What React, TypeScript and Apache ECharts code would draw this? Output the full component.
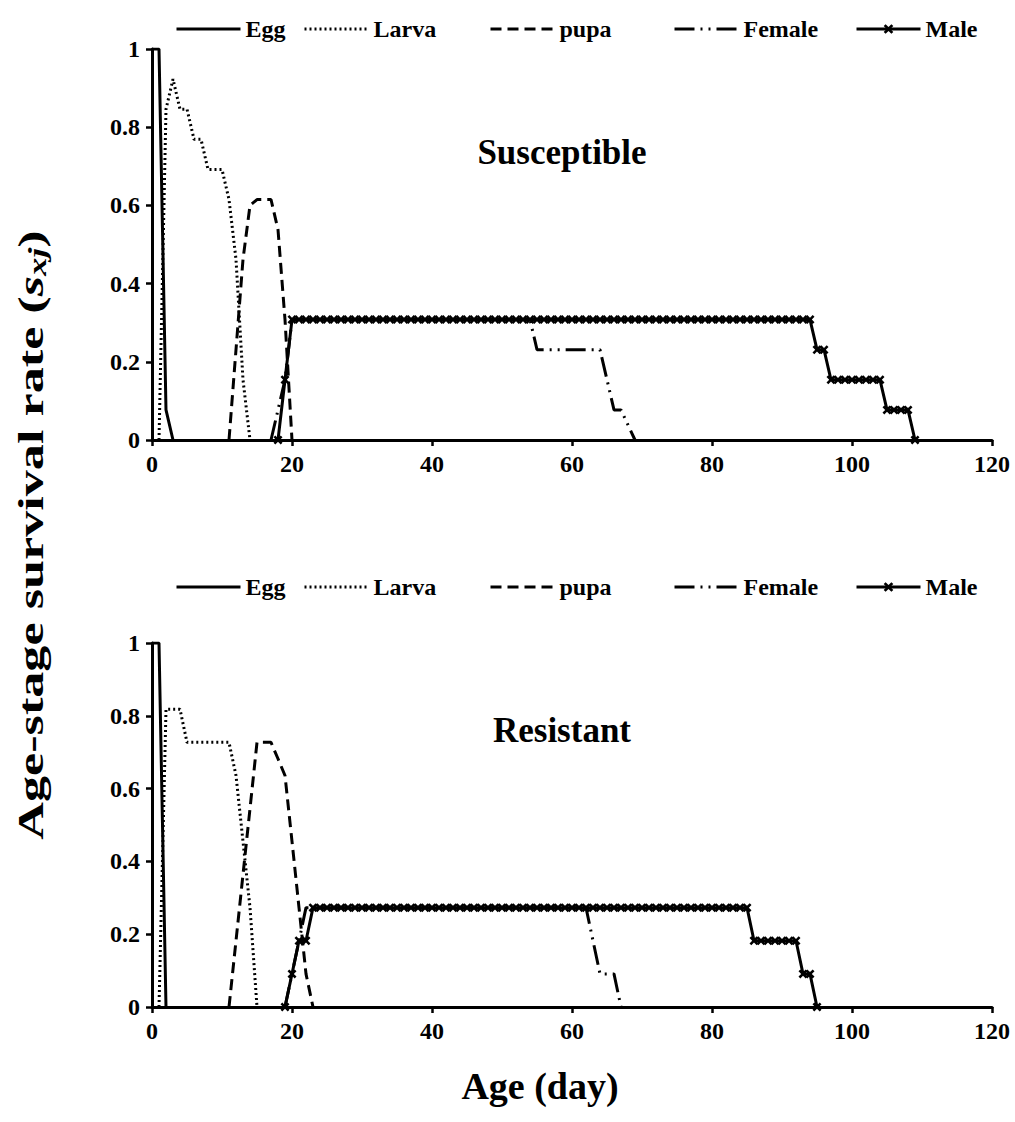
import React, { useEffect, useRef } from 'react';
import * as echarts from 'echarts';

const FONT = '"Liberation Serif", "Times New Roman", serif';

// ---------- axis ticks ----------
const xTickInterval = 20;
const xMax = 120;
const yTickInterval = 0.2;
const yMax = 1;

// ---------- Susceptible ----------
const eggS = [[0, 1], [1, 1], [2, 0.077], [3, 0]];
const larvaS = [
  [1, 0], [2, 0.846], [3, 0.923], [4, 0.846], [5, 0.846], [6, 0.769], [7, 0.769],
  [8, 0.692], [9, 0.692], [10, 0.692], [11, 0.615], [12, 0.462], [13, 0.154], [14, 0],
];
const pupaS = [
  [11, 0], [12, 0.231], [13, 0.462], [14, 0.6], [15, 0.615], [16, 0.615], [17, 0.615],
  [18, 0.538], [19, 0.308], [20, 0],
];
const femaleS = [
  [17, 0], [18, 0.077], [19, 0.154], [20, 0.308], [54, 0.308], [55, 0.231],
  [64, 0.231], [65, 0.154], [66, 0.077], [67, 0.077], [69, 0],
];
const maleSStartDay = 18;
const maleSValues = [
  0, 0.154,
  0.308, 0.308, 0.308, 0.308, 0.308, 0.308, 0.308, 0.308, 0.308, 0.308, 0.308, 0.308, 0.308, 0.308, 0.308,
  0.308, 0.308, 0.308, 0.308, 0.308, 0.308, 0.308, 0.308, 0.308, 0.308, 0.308, 0.308, 0.308, 0.308, 0.308,
  0.308, 0.308, 0.308, 0.308, 0.308, 0.308, 0.308, 0.308, 0.308, 0.308, 0.308, 0.308, 0.308, 0.308, 0.308,
  0.308, 0.308, 0.308, 0.308, 0.308, 0.308, 0.308, 0.308, 0.308, 0.308, 0.308, 0.308, 0.308, 0.308, 0.308,
  0.308, 0.308, 0.308, 0.308, 0.308, 0.308, 0.308, 0.308, 0.308, 0.308, 0.308, 0.308, 0.308, 0.308, 0.308,
  0.231, 0.231,
  0.154, 0.154, 0.154, 0.154, 0.154, 0.154, 0.154, 0.154,
  0.077, 0.077, 0.077, 0.077,
  0,
];

// ---------- Resistant ----------
const eggR = [[0, 1], [1, 1], [2, 0]];
const larvaR = [
  [1, 0], [2, 0.818], [3, 0.818], [4, 0.818], [5, 0.727], [6, 0.727], [7, 0.727],
  [8, 0.727], [9, 0.727], [10, 0.727], [11, 0.727], [12, 0.636], [13, 0.455], [14, 0.273], [15, 0],
];
const pupaR = [
  [11, 0], [12, 0.182], [13, 0.364], [14, 0.545], [15, 0.727], [16, 0.727], [17, 0.727],
  [18, 0.682], [19, 0.636], [20, 0.455], [21, 0.273], [22, 0.091], [23, 0],
];
const femaleR = [
  [19, 0], [20, 0.091], [21, 0.182], [22, 0.273], [62, 0.273], [63, 0.182], [64, 0.091],
  [66, 0.091], [67, 0],
];
const maleRStartDay = 19;
const maleRValues = [
  0, 0.091, 0.182, 0.182,
  0.273, 0.273, 0.273, 0.273, 0.273, 0.273, 0.273, 0.273, 0.273, 0.273, 0.273, 0.273, 0.273, 0.273, 0.273,
  0.273, 0.273, 0.273, 0.273, 0.273, 0.273, 0.273, 0.273, 0.273, 0.273, 0.273, 0.273, 0.273, 0.273, 0.273,
  0.273, 0.273, 0.273, 0.273, 0.273, 0.273, 0.273, 0.273, 0.273, 0.273, 0.273, 0.273, 0.273, 0.273, 0.273,
  0.273, 0.273, 0.273, 0.273, 0.273, 0.273, 0.273, 0.273, 0.273, 0.273, 0.273, 0.273, 0.273, 0.273, 0.273,
  0.273, 0.273, 0.273,
  0.182, 0.182, 0.182, 0.182, 0.182, 0.182, 0.182,
  0.091, 0.091,
  0,
];

const stageNames = ['Egg', 'Larva', 'pupa', 'Female', 'Male'];
const panelTitles = ['Susceptible', 'Resistant'];

const X_SYMBOL =
  'path://M0,2 L2,0 L5,3 L8,0 L10,2 L7,5 L10,8 L8,10 L5,7 L2,10 L0,8 L3,5 Z';

const lineStyles: Record<string, any> = {
  Egg: { type: 'solid', width: 3 },
  Larva: { type: [2, 3], width: 3 },
  pupa: { type: [11, 6], width: 3 },
  Female: { type: [20, 6, 2, 6, 2, 6], width: 3 },
  Male: { type: 'solid', width: 3 },
};

function measure(text: string, font: string): number {
  const c = document.createElement('canvas').getContext('2d');
  if (!c) return text.length * 15;
  c.font = font;
  return c.measureText(text).width;
}

export default function App() {
  const ref = useRef<HTMLDivElement>(null);

  useEffect(() => {
    document.body.style.margin = '0';
    if (!ref.current) return;
    const chart = echarts.init(ref.current, undefined, { renderer: 'svg' });

    const toPairs = (start: number, vals: number[]) => vals.map((v, i) => [start + i, v]);
    const panels = [
      { Egg: eggS, Larva: larvaS, pupa: pupaS, Female: femaleS, Male: toPairs(maleSStartDay, maleSValues) },
      { Egg: eggR, Larva: larvaR, pupa: pupaR, Female: femaleR, Male: toPairs(maleRStartDay, maleRValues) },
    ];

    const grids = [
      { left: 152, width: 840, top: 49, height: 391 },
      { left: 152, width: 840, top: 643, height: 364 },
    ];
    const legendTops = [12, 570];
    const legendLefts = [170, 298, 484, 668, 850];
    const titleYs = [152, 730];

    const series: any[] = [];
    panels.forEach((p: any, gi) => {
      stageNames.forEach((n) => {
        const isMale = n === 'Male';
        series.push({
          type: 'line',
          name: n,
          data: p[n],
          xAxisIndex: gi,
          yAxisIndex: gi,
          symbol: isMale ? X_SYMBOL : 'none',
          symbolSize: 9,
          showSymbol: isMale,
          showAllSymbol: true,
          lineStyle: { color: '#000', ...lineStyles[n], cap: 'butt' },
          itemStyle: { color: '#000' },
          emphasis: { disabled: true },
        });
      });
    });

    const axisCommon = {
      axisLine: { show: true, onZero: false, lineStyle: { color: '#000', width: 3 } },
      axisTick: { show: true, inside: false, length: 6, lineStyle: { color: '#000', width: 2.5 } },
      splitLine: { show: false },
      axisLabel: { color: '#000', fontFamily: FONT, fontWeight: 'bold', fontSize: 24, margin: 12 },
    };

    const legends: any[] = [];
    legendTops.forEach((t) => {
      stageNames.forEach((n, i) => {
        const isMale = n === 'Male';
        legends.push({
          data: [n],
          left: legendLefts[i],
          top: t,
          itemWidth: 64,
          itemHeight: 12,
          selectedMode: false,
          lineStyle: { width: 3 },
          itemStyle: isMale ? { color: '#000' } : { opacity: 0 },
          textStyle: { color: '#000', fontFamily: FONT, fontWeight: 'bold', fontSize: 24 },
        });
      });
    });

    // y-axis title with italic s and subscript xj
    const tSize = 36;
    const subSize = 25;
    const mainTxt = 'Age-stage survival rate (';
    const w1 = measure(mainTxt, `bold ${tSize}px ${FONT}`);
    const w2 = measure('s', `italic bold ${tSize}px ${FONT}`);
    const w3 = measure('xj', `italic bold ${subSize}px ${FONT}`);
    const total = w1 + w2 + w3 + measure(')', `bold ${tSize}px ${FONT}`);
    const x0 = -total / 2;
    const tb = { fill: '#000', fontFamily: FONT, fontWeight: 'bold', textAlign: 'left', textVerticalAlign: 'middle', verticalAlign: 'middle' };

    const graphic: any[] = [
      {
        type: 'group',
        x: 31,
        y: 535,
        rotation: Math.PI / 2,
        scaleX: 1.45,
        children: [
          { type: 'text', x: x0, y: 0, style: { ...tb, text: mainTxt, fontSize: tSize } },
          { type: 'text', x: x0 + w1, y: 0, style: { ...tb, text: 's', fontSize: tSize, fontStyle: 'italic' } },
          { type: 'text', x: x0 + w1 + w2, y: 7, style: { ...tb, text: 'xj', fontSize: subSize, fontStyle: 'italic' } },
          { type: 'text', x: x0 + w1 + w2 + w3, y: 0, style: { ...tb, text: ')', fontSize: tSize } },
        ],
      },
      {
        type: 'text',
        x: 540,
        y: 1086,
        style: { ...tb, textAlign: 'center', text: 'Age (day)', fontSize: 38 },
      },
      ...panelTitles.map((t, i) => ({
        type: 'text',
        x: 562,
        y: titleYs[i],
        style: { ...tb, textAlign: 'center', text: t, fontSize: 35 },
      })),
    ];

    chart.setOption({
      animation: false,
      backgroundColor: '#fff',
      grid: grids.map((g) => ({ ...g, containLabel: false })),
      xAxis: grids.map((_, gi) => ({
        type: 'value',
        gridIndex: gi,
        min: 0,
        max: xMax,
        interval: xTickInterval,
        ...axisCommon,
      })),
      yAxis: grids.map((_, gi) => ({
        type: 'value',
        gridIndex: gi,
        min: 0,
        max: yMax,
        interval: yTickInterval,
        ...axisCommon,
      })),
      legend: legends,
      series,
      graphic,
    });

    return () => chart.dispose();
  }, []);

  return <div ref={ref} style={{ width: 1015, height: 1122 }} />;
}
